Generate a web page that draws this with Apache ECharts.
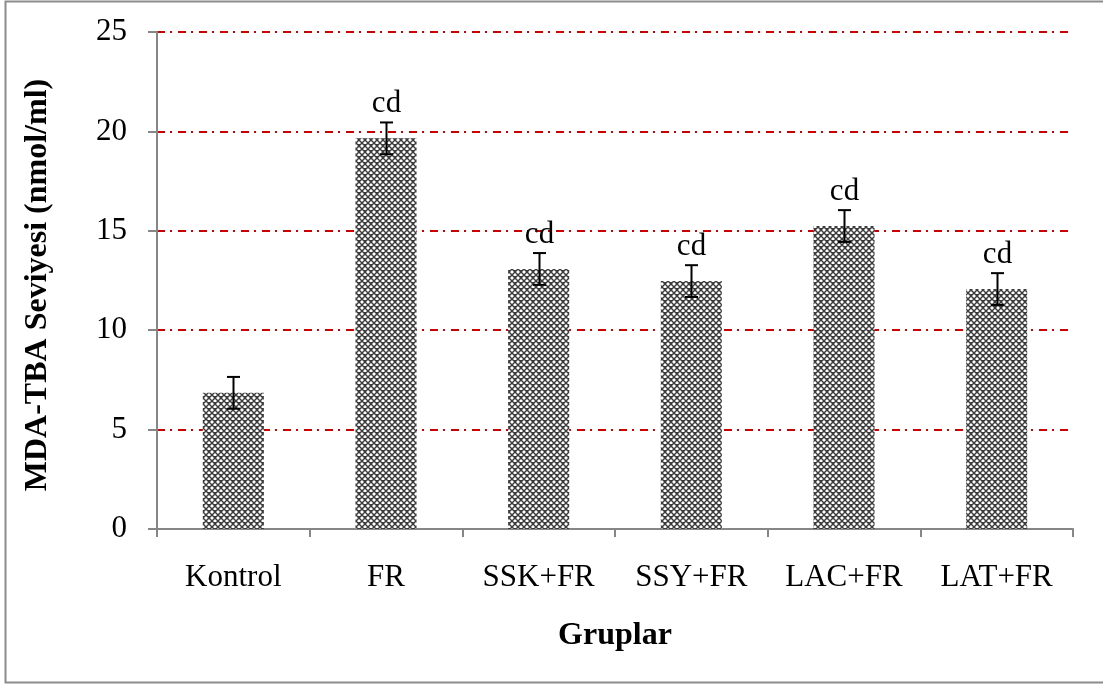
<!DOCTYPE html>
<html>
<head>
<meta charset="utf-8">
<script src="https://cdn.jsdelivr.net/npm/echarts@6/dist/echarts.min.js"></script>
<style>
html,body{margin:0;padding:0;background:#fff;}
#chart{width:1103px;height:684px;}
</style>
</head>
<body>
<div id="chart"></div>
<script>
const categories = ['Kontrol', 'FR', 'SSK+FR', 'SSY+FR', 'LAC+FR', 'LAT+FR'];
const means = [6.85, 19.65, 13.08, 12.47, 15.24, 12.07];
const errors = [0.8, 0.8, 0.8, 0.8, 0.8, 0.8];
const sigLabels = ['', 'cd', 'cd', 'cd', 'cd', 'cd'];
const yTicks = [0, 5, 10, 15, 20, 25];
const yTitle = 'MDA-TBA Seviyesi (nmol/ml)';
const xTitle = 'Gruplar';

function makePattern() {
  const c = document.createElement('canvas');
  c.width = 6; c.height = 6;
  const g = c.getContext('2d');
  g.fillStyle = '#3c3c3c';
  g.fillRect(0, 0, 6, 6);
  g.fillStyle = '#9a9a9a';
  g.fillRect(0, 1, 4, 2); g.fillRect(1, 0, 2, 4);
  g.fillRect(3, 4, 3, 2); g.fillRect(4, 3, 2, 3);
  g.fillRect(0, 4, 1, 2);
  g.fillStyle = '#ffffff';
  g.fillRect(1, 1, 2, 2);
  g.fillRect(4, 4, 2, 2);
  return c;
}

const FONT = '"Liberation Serif", "Times New Roman", serif';
const chart = echarts.init(document.getElementById('chart'), null, {renderer: 'canvas'});
const axisGray = '#868686';

chart.setOption({
  animation: false,
  backgroundColor: '#ffffff',
  graphic: [{
    type: 'rect',
    shape: {x: 5.5, y: 1.5, width: 1100, height: 681},
    style: {fill: 'none', stroke: '#8c8c8c', lineWidth: 2},
    silent: true
  }, {
    type: 'text',
    x: 38, y: 285,
    rotation: Math.PI / 2,
    style: {
      text: yTitle, font: 'bold 32px ' + FONT, fill: '#000',
      align: 'center', verticalAlign: 'middle',
      textAlign: 'center', textVerticalAlign: 'middle'
    },
    silent: true
  }],
  grid: {left: 157, right: 30, top: 32, bottom: 155, containLabel: false},
  xAxis: {
    type: 'category',
    data: categories,
    name: xTitle,
    nameLocation: 'middle',
    nameGap: 91,
    nameTextStyle: {fontFamily: FONT, fontSize: 32, fontWeight: 'bold', color: '#000'},
    axisLine: {lineStyle: {color: axisGray, width: 2}},
    axisTick: {show: true, alignWithLabel: false, length: 8, lineStyle: {color: axisGray, width: 2}},
    axisLabel: {fontFamily: FONT, fontSize: 31, color: '#000', margin: 33, interval: 0},
    splitLine: {show: false}
  },
  yAxis: {
    type: 'value',
    min: 0, max: 25, interval: 5,
    axisLine: {show: true, lineStyle: {color: axisGray, width: 2}},
    axisTick: {show: true, length: 9, lineStyle: {color: axisGray, width: 2}},
    axisLabel: {fontFamily: FONT, fontSize: 31, color: '#000', margin: 30,
      formatter: v => yTicks.indexOf(v) >= 0 ? String(v) : ''},
    splitLine: {show: true, lineStyle: {color: '#cc0000', width: 2, type: [8, 5, 2, 6]}}
  },
  series: [{
    type: 'bar',
    data: means,
    barWidth: '40%',
    itemStyle: {color: {image: makePattern(), repeat: 'repeat'}},
    z: 2
  }, {
    type: 'custom',
    data: categories.map((c, i) => [i, means[i], errors[i]]),
    z: 5,
    renderItem: function (params, api) {
      const i = api.value(0), m = api.value(1), e = api.value(2);
      const top = api.coord([i, m + e]);
      const bot = api.coord([i, m - e]);
      const x = Math.round(top[0]) + 0.5;
      const hw = 6.5;
      const children = [
        {type: 'line', shape: {x1: x, y1: top[1], x2: x, y2: bot[1]}, style: {stroke: '#000', lineWidth: 2}},
        {type: 'line', shape: {x1: x - hw, y1: top[1], x2: x + hw, y2: top[1]}, style: {stroke: '#000', lineWidth: 2}},
        {type: 'line', shape: {x1: x - hw, y1: bot[1], x2: x + hw, y2: bot[1]}, style: {stroke: '#000', lineWidth: 2}}
      ];
      if (sigLabels[i]) {
        children.push({type: 'text', style: {
          text: sigLabels[i], x: x, y: top[1] - 3,
          font: '31px ' + FONT, fill: '#000',
          align: 'center', verticalAlign: 'bottom',
          textAlign: 'center', textVerticalAlign: 'bottom'
        }});
      }
      return {type: 'group', children: children};
    }
  }]
});
</script>
</body>
</html>
